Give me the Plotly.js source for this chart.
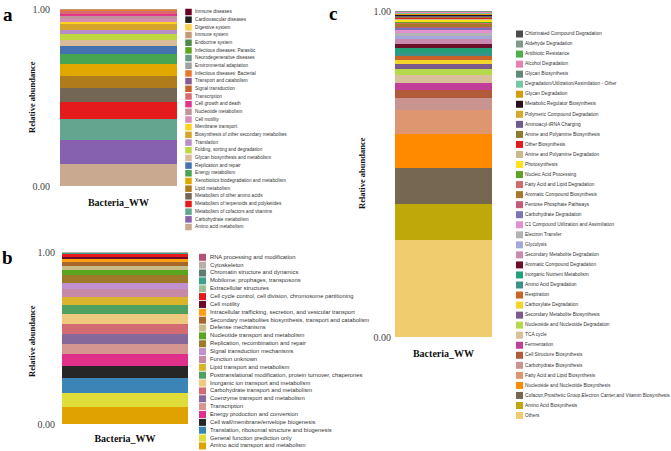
<!DOCTYPE html>
<html>
<head>
<meta charset="utf-8">
<script src="https://cdn.plot.ly/plotly-3.0.1.min.js"></script>
<style>html,body{margin:0;padding:0;background:#fff}#chart{width:671px;height:451px}</style>
</head>
<body>
<div id="chart"></div>
<script>
// ---------------- data ----------------
const sampleName = 'Bacteria_WW';
const yTickVals = [0, 1];
const yTickText = ['0.00', '1.00'];
const yTitleText = 'Relative abundance';

// panel a : KEGG level 2 (legend order = top of stack first)
const keggNames = ['Immune diseases','Cardiovascular diseases','Digestive system','Immune system','Endocrine system',
  'Infectious diseases: Parasitic','Neurodegenerative diseases','Environmental adaptation','Infectious diseases: Bacterial',
  'Transport and catabolism','Signal transduction','Transcription','Cell growth and death','Nucleotide metabolism',
  'Cell motility','Membrane transport','Biosynthesis of other secondary metabolites','Translation',
  'Folding, sorting and degradation','Glycan biosynthesis and metabolism','Replication and repair','Energy metabolism',
  'Xenobiotics biodegradation and metabolism','Lipid metabolism','Metabolism of other amino acids',
  'Metabolism of terpenoids and polyketides','Metabolism of cofactors and vitamins','Carbohydrate metabolism',
  'Amino acid metabolism'];
const keggValues = [0.0005,0.0006,0.0008,0.0008,0.0010,0.0010,0.0012,0.0012,0.0012,0.0015,0.0020,0.0129,0.0152,
  0.0169,0.0169,0.0129,0.0337,0.0225,0.0337,0.0298,0.0489,0.0546,0.0658,0.0692,0.0787,0.0973,0.1181,0.1350,0.1254];
const keggColors = ['#6b0024','#1f1f1f','#f7d24a','#c49a78','#4e8a4e','#5fa61e','#6a9a8a','#a0a0a0','#e8772a',
  '#8a5a90','#c8642a','#d86a70','#e0358b','#c1949a','#d98cb8','#ffd21f','#d4a52a','#b88ec8','#c0d840','#d9bb9a',
  '#4373ae','#47a551','#e0a800','#b07c1b','#736654','#e41a1c','#62a690','#8561b0','#c9a98f'];

// panel b : COG categories
const cogNames = ['RNA processing and modification','Cytoskeleton','Chromatin structure and dynamics',
  'Mobilome: prophages, transposons','Extracellular structures',
  'Cell cycle control, cell division, chromosome partitioning','Cell motility',
  'Intracellular trafficking, secretion, and vesicular transport',
  'Secondary metabolites biosynthesis, transport and catabolism','Defense mechanisms',
  'Nucleotide transport and metabolism','Replication, recombination and repair','Signal transduction mechanisms',
  'Function unknown','Lipid transport and metabolism','Posttranslational modification, protein turnover, chaperones',
  'Inorganic ion transport and metabolism','Carbohydrate transport and metabolism','Coenzyme transport and metabolism',
  'Transcription','Energy production and conversion','Cell wall/membrane/envelope biogenesis',
  'Translation, ribosomal structure and biogenesis','General function prediction only',
  'Amino acid transport and metabolism'];
const cogValues = [0.0017,0.0023,0.0023,0.0029,0.0041,0.0157,0.0117,0.0157,0.0216,0.0274,0.0291,0.0425,0.0390,
  0.0449,0.0484,0.0524,0.0542,0.0583,0.0624,0.0583,0.0682,0.0699,0.0857,0.0833,0.0973];
const cogColors = ['#b5527a','#b8b0a8','#5f7a6e','#3aa58a','#9dbf98','#e41a1c','#6b0a2a','#ff9f10','#a8672a',
  '#c8bd8a','#5aa520','#9c7a2a','#c090d0','#c68aa8','#dab42a','#50a060','#eec97e','#d46a72','#86689a','#d4968e',
  '#e0308a','#262626','#3a85b5','#e0dc3a','#e0a200'];

// panel c : MetaCyc superpathways
const metaNames = ['Chlorinated Compound Degradation','Aldehyde Degradation','Antibiotic Resistance',
  'Alcohol Degradation','Glycan Biosynthesis','Degradation/Utilization/Assimilation - Other','Glycan Degradation',
  'Metabolic Regulator Biosynthesis','Polymeric Compound Degradation','Aminoacyl-tRNA Charging',
  'Amine and Polyamine Biosynthesis','Other Biosynthesis','Amine and Polyamine Degradation','Photosynthesis',
  'Nucleic Acid Processing','Fatty Acid and Lipid Degradation','Aromatic Compound Biosynthesis',
  'Pentose Phosphate Pathways','Carbohydrate Degradation','C1 Compound Utilization and Assimilation',
  'Electron Transfer','Glycolysis','Secondary Metabolite Degradation','Aromatic Compound Degradation',
  'Inorganic Nutrient Metabolism','Amino Acid Degradation','Respiration','Carboxylate Degradation',
  'Secondary Metabolite Biosynthesis','Nucleoside and Nucleotide Degradation','TCA cycle','Fermentation',
  'Cell Structure Biosynthesis','Carbohydrate Biosynthesis','Fatty Acid and Lipid Biosynthesis',
  'Nucleoside and Nucleotide Biosynthesis',
  'Cofactor,Prosthetic Group,Electron Carrier,and Vitamin Biosynthesis','Amino Acid Biosynthesis','Others'];
const metaValues = [0.0012,0.0015,0.0015,0.0015,0.0018,0.0021,0.0025,0.0021,0.0025,0.0025,0.0028,0.0037,0.0028,
  0.0040,0.0034,0.0040,0.0077,0.0052,0.0067,0.0092,0.0083,0.0101,0.0132,0.0123,0.0153,0.0101,0.0113,0.0144,
  0.0153,0.0175,0.0236,0.0236,0.0245,0.0359,0.0745,0.1043,0.1083,0.1126,0.2962];
const metaColors = ['#4d4d4d','#7f9a8c','#4daf4a','#e87fb0','#5e8a76','#74c8a4','#d69a0a','#2b0f1e','#d4aa2c',
  '#6c5b8f','#8c7a33','#e41a1c','#c9b98f','#ffe31a','#5ba323','#cf6b6b','#a5782a','#c35a7a','#7b73b8','#e191d0',
  '#b3b3b3','#a3a8dc','#c98bb0','#6b0f2a','#23a07a','#3a928a','#c8642a','#f5d52a','#7d5a8c','#b5d94a','#d9bf9a',
  '#c13f9a','#b35a3a','#c99490','#dd9670','#ff8a00','#756750','#bfa80a','#f0cc6e'];

const panelLetters = ['a', 'b', 'c'];

// ---------------- layout helpers ----------------
const W = 671, H = 451;
const fx = p => p / W;
const fy = p => 1 - p / H;

const panels = [
  {names: keggNames, values: keggValues, colors: keggColors,
   box: {l: 60, r: 177, t: 9, b: 186}, yStand: 9, xStand: 9,
   leg: {y0: 12, dy: 7.68, sw: 188.5, tx: 195, size: 6.5, font: 4.7},
   yt: {x: 32, y: 97}, lt: {x: 8, y: 15}},
  {names: cogNames, values: cogValues, colors: cogColors,
   box: {l: 62, r: 188, t: 252, b: 424}, yStand: 6, xStand: 7,
   leg: {y0: 257.3, dy: 7.86, sw: 202.5, tx: 210, size: 7, font: 5.8},
   yt: {x: 32, y: 341}, lt: {x: 7, y: 257}},
  {names: metaNames, values: metaValues, colors: metaColors,
   box: {l: 395, r: 492, t: 11, b: 337}, yStand: 3, xStand: 9,
   leg: {y0: 34, dy: 10.04, sw: 519.5, tx: 525, size: 7, font: 4.8},
   yt: {x: 362, y: 173}, lt: {x: 333, y: 14}}
];

const traces = [];
const layout = {
  width: W, height: H,
  margin: {l: 0, r: 0, t: 0, b: 0, pad: 0},
  paper_bgcolor: '#ffffff', plot_bgcolor: 'rgba(0,0,0,0)',
  barmode: 'stack', bargap: 0, showlegend: false,
  annotations: []
};
const axKey = (id) => (id[0] === 'x' ? 'xaxis' : 'yaxis') + id.slice(1);

panels.forEach((p, k) => {
  const xb = k === 0 ? 'x' : 'x' + (2 * k + 1);
  const yb = k === 0 ? 'y' : 'y' + (2 * k + 1);
  const xl = 'x' + (2 * k + 2);
  const yl = 'y' + (2 * k + 2);
  const n = p.names.length;

  // stacked bar: first trace at bottom -> iterate from last legend entry
  for (let i = n - 1; i >= 0; i--) {
    traces.push({
      type: 'bar', x: [sampleName], y: [p.values[i]], name: p.names[i],
      marker: {color: p.colors[i], line: {width: 0}},
      xaxis: xb, yaxis: yb, showlegend: false,
      hovertemplate: p.names[i] + ': %{y:.4f}<extra></extra>'
    });
  }
  // legend swatches + labels on their own hidden axes
  const idx = p.names.map((_, i) => i);
  traces.push({
    type: 'scatter', mode: 'markers', x: p.names.map(() => p.leg.sw), y: idx,
    marker: {symbol: 'square', size: p.leg.size, color: p.colors, line: {width: 0}},
    xaxis: xl, yaxis: yl, showlegend: false, hoverinfo: 'skip', cliponaxis: false
  });
  traces.push({
    type: 'scatter', mode: 'text', x: p.names.map(() => p.leg.tx), y: idx, text: p.names,
    textposition: 'middle right',
    textfont: {family: 'Liberation Sans, Arial, sans-serif', size: p.leg.font, color: '#333333'},
    xaxis: xl, yaxis: yl, showlegend: false, hoverinfo: 'skip', cliponaxis: false
  });

  layout[axKey(xb)] = {
    domain: [fx(p.box.l), fx(p.box.r)], anchor: yb, type: 'category', range: [-0.5, 0.5],
    showgrid: false, zeroline: false, showline: false, ticks: '',
    ticklabelstandoff: p.xStand,
    tickfont: {family: 'Liberation Serif, Times New Roman, serif', size: 10, weight: 'bold', color: '#111111'},
    fixedrange: true
  };
  layout[axKey(yb)] = {
    domain: [fy(p.box.b), fy(p.box.t)], anchor: xb, range: [0, 1],
    tickvals: yTickVals, ticktext: yTickText,
    showgrid: false, zeroline: false, showline: false, ticks: '',
    ticklabelstandoff: p.yStand,
    tickfont: {family: 'Liberation Serif, Times New Roman, serif', size: 10, color: '#444444'},
    fixedrange: true
  };
  layout[axKey(xl)] = {domain: [0, 1], anchor: yl, range: [0, W], visible: false, fixedrange: true};
  layout[axKey(yl)] = {
    domain: [fy(p.leg.y0 + p.leg.dy * (n - 0.5)), fy(p.leg.y0 - p.leg.dy / 2)],
    anchor: xl, range: [n - 0.5, -0.5], visible: false, fixedrange: true
  };

  layout.annotations.push({
    xref: 'paper', yref: 'paper', x: fx(p.yt.x), y: fy(p.yt.y), xanchor: 'center', yanchor: 'middle',
    text: '<b>' + yTitleText + '</b>', textangle: -90, showarrow: false,
    font: {family: 'Liberation Serif, Times New Roman, serif', size: 8.5, color: '#111111'}
  });
  layout.annotations.push({
    xref: 'paper', yref: 'paper', x: fx(p.lt.x), y: fy(p.lt.y), xanchor: 'center', yanchor: 'middle',
    text: '<b>' + panelLetters[k] + '</b>', showarrow: false,
    font: {family: 'Liberation Serif, Times New Roman, serif', size: 19, color: '#000000'}
  });
});

Plotly.newPlot('chart', traces, layout, {staticPlot: true, displayModeBar: false});
</script>
</body>
</html>
